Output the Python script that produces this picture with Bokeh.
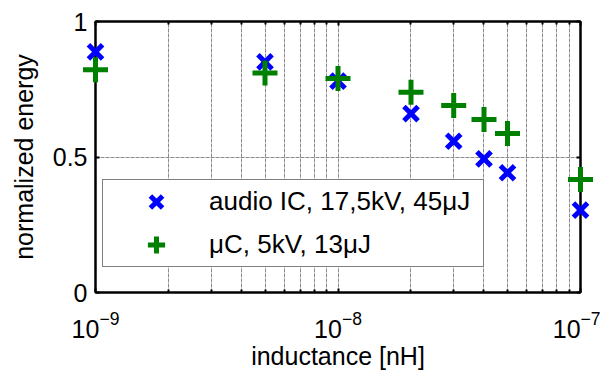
from bokeh.plotting import figure
from bokeh.models import (LinearAxis, FixedTicker, Legend, LegendItem,
                          Range1d, ColumnDataSource)
from bokeh.embed import file_html
from bokeh.resources import INLINE

# ---- data ----
inductance = [1e-9, 5e-9, 1e-8, 2e-8, 3e-8, 4e-8, 5e-8, 1e-7]
audio_ic = [0.888, 0.851, 0.780, 0.660, 0.558, 0.493, 0.442, 0.304]
micro_c = [0.822, 0.810, 0.790, 0.739, 0.690, 0.638, 0.587, 0.417]
label_audio = "audio IC, 17,5kV, 45\u03bcJ"
label_uc = "\u03bcC, 5kV, 13\u03bcJ"
x_major = [1e-9, 1e-8, 1e-7]
x_minor = [m * d for d in [1e-9, 1e-8] for m in range(2, 10)]
y_ticks = [0, 0.5, 1]

FONT = "Liberation Sans"

p = figure(width=600, height=372, x_axis_type="log",
           x_range=Range1d(1e-9, 1e-7), y_range=Range1d(0, 1),
           output_backend="svg", toolbar_location=None,
           min_border_left=95, min_border_right=20, min_border_top=21, min_border_bottom=75)
p.background_fill_color = "white"
p.border_fill_color = "white"
p.outline_line_color = "black"
p.outline_line_width = 2

xt = FixedTicker(ticks=x_major, minor_ticks=x_minor)
yt = FixedTicker(ticks=y_ticks)

xa = p.xaxis[0]
xa.ticker = xt
ya = p.yaxis[0]
ya.ticker = yt

for ax in (xa, ya):
    ax.axis_line_color = "black"
    ax.axis_line_width = 2
    ax.major_tick_in = 4
    ax.major_tick_out = 0
    ax.minor_tick_in = 3
    ax.minor_tick_out = 0
    ax.major_tick_line_color = "black"
    ax.major_tick_line_width = 2
    ax.minor_tick_line_color = "black"
    ax.minor_tick_line_width = 2
    ax.major_label_text_font = FONT
    ax.major_label_text_font_size = "25px"
    ax.major_label_text_color = "black"
    ax.axis_label_text_font = FONT
    ax.axis_label_text_font_size = "25px"
    ax.axis_label_text_font_style = "normal"
    ax.axis_label_text_color = "black"

ya.minor_tick_line_color = None
xa.axis_label = "inductance [nH]"
ya.axis_label = "normalized energy"
xa.major_label_standoff = 18
xa.axis_label_standoff = 1
ya.major_label_standoff = 8
ya.axis_label_standoff = 12

# top and right axes (ticks only)
top = LinearAxis(ticker=xt)
right = LinearAxis(ticker=yt)
for ax in (top, right):
    ax.axis_line_color = "black"
    ax.axis_line_width = 2
    ax.major_tick_in = 4
    ax.major_tick_out = 0
    ax.minor_tick_in = 3
    ax.minor_tick_out = 0
    ax.major_tick_line_width = 2
    ax.minor_tick_line_width = 2
    ax.major_label_text_font_size = "1px"
    ax.major_label_text_alpha = 0
    ax.major_label_standoff = 0
right.minor_tick_line_color = None
p.add_layout(top, "above")
p.add_layout(right, "right")

# grids
p.xgrid.ticker = xt
p.xgrid.grid_line_color = "#8a8a8a"
p.xgrid.grid_line_dash = "4 1"
p.xgrid.grid_line_width = 1
p.xgrid.minor_grid_line_color = "#8a8a8a"
p.xgrid.minor_grid_line_dash = "4 1"
p.xgrid.minor_grid_line_width = 1
p.ygrid.ticker = FixedTicker(ticks=[0.5])
p.ygrid.grid_line_color = "#8a8a8a"
p.ygrid.grid_line_dash = "4 1"

src = ColumnDataSource(dict(x=inductance, a=audio_ic, u=micro_c))
r1 = p.scatter("x", "a", source=src, marker="x", size=20, line_color="blue", line_width=5, level="overlay")
r2 = p.scatter("x", "u", source=src, marker="cross", size=25, line_color="green", line_width=5, level="overlay")

legend = Legend(items=[LegendItem(label=label_audio, renderers=[r1]),
                       LegendItem(label=label_uc, renderers=[r2])],
                location=(7, 25), padding=0, margin=0, spacing=0,
                glyph_width=106, glyph_height=43, label_standoff=0,
                label_width=274, label_height=30,
                label_text_font=FONT, label_text_font_size="26px", label_text_color="black",
                border_line_color="black", border_line_width=1.2,
                background_fill_color="white", background_fill_alpha=1)
p.add_layout(legend, "center")

open("out.html", "w").write(file_html(p, INLINE))
